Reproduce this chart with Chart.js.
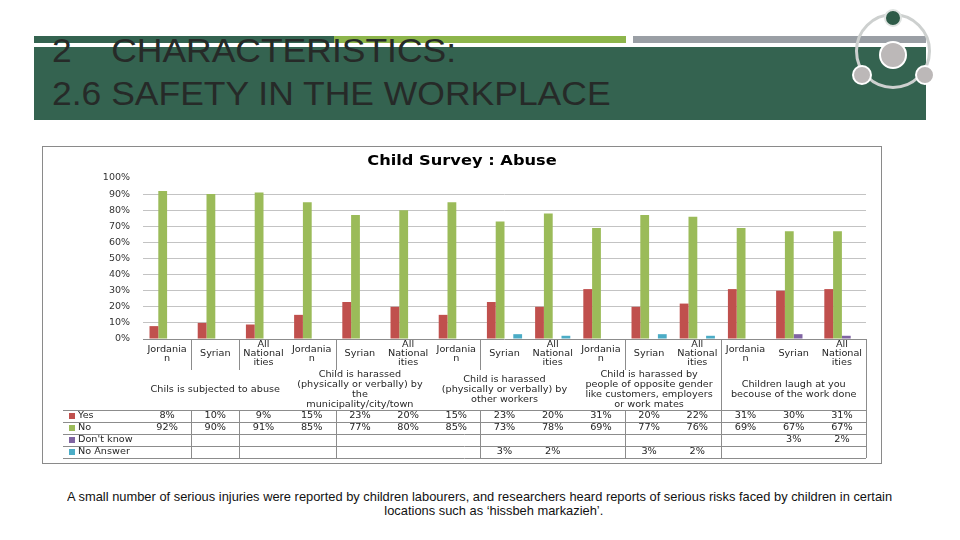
<!DOCTYPE html>
<html>
<head>
<meta charset="utf-8">
<script src="https://cdn.jsdelivr.net/npm/chart.js@4.4.1/dist/chart.umd.min.js"></script>
<style>
  body { margin: 0; width: 960px; height: 540px; background: #fff; position: relative; overflow: hidden; font-family: "Liberation Sans", Arial, sans-serif; }
  .blk { position: absolute; }
  .head { position: absolute; left: 52px; font-size: 33px; line-height: 33px; color: #262a28; white-space: pre; transform: scaleX(1.075); transform-origin: 0 0; }
  .dot { position: absolute; border-radius: 50%; box-sizing: border-box; }
  #box { position: absolute; left: 42px; top: 146px; width: 840px; height: 318px; border: 1px solid #8a8a8a; box-sizing: border-box; }
  #wrap { position: relative; width: 838px; height: 316px; }
  .cap { position: absolute; left: 0; width: 960px; text-align: center; font-size: 13.5px; line-height: 14px; color: #111; }
  .cap span { display: inline-block; white-space: pre; }
</style>
</head>
<body>
<div class="blk" style="left:34px;top:36px;width:300px;height:7px;background:#346350"></div>
<div class="blk" style="left:334px;top:36px;width:292px;height:7px;background:#8db54b"></div>
<div class="blk" style="left:633px;top:36px;width:293px;height:7px;background:#9a9fa5"></div>
<div class="blk" style="left:34px;top:47px;width:892px;height:73px;background:#346350"></div>
<div class="head" style="top:34px">2    CHARACTERISTICS:</div>
<div class="head" style="top:77px">2.6 SAFETY IN THE WORKPLACE</div>

<div class="dot" style="left:855px;top:13px;width:76px;height:76px;border:3px solid #cdd0cf"></div>
<div class="dot" style="left:884px;top:9px;width:18px;height:18px;background:#2e5b48;border:2px solid #dfe3e1"></div>
<div class="dot" style="left:879px;top:41px;width:28px;height:28px;background:#bcb8b8;border:2px solid #fff"></div>
<div class="dot" style="left:852px;top:65px;width:20px;height:20px;background:#bcb8b8;border:2px solid #fff"></div>
<div class="dot" style="left:915px;top:65px;width:20px;height:20px;background:#bcb8b8;border:2px solid #fff"></div>

<div id="box"><div id="wrap"><canvas id="chartAbuse"></canvas></div></div>

<div class="cap" style="top:490px"><span id="cap1">A small number of serious injuries were reported by children labourers, and researchers heard reports of serious risks faced by children in certain</span></div>
<div class="cap" style="top:504px;left:14px"><span id="cap2">locations such as ‘hissbeh markazieh’.</span></div>

<script>
// data (percent)
const chartTitle = 'Child Survey : Abuse';
const nationLabels = [['Jordania', 'n'], ['Syrian'], ['All', 'National', 'ities']];
const groupLabels = [
    ['Chils is subjected to abuse'],
    ['Child is harassed', '(physically or verbally) by', 'the', 'municipality/city/town'],
    ['Child is harassed', '(physically or verbally) by', 'other workers'],
    ['Child is harassed by', 'people of opposite gender', 'like customers, employers', 'or work mates'],
    ['Children laugh at you', 'becouse of the work done']
];
const yesValues = [8, 10, 9, 15, 23, 20, 15, 23, 20, 31, 20, 22, 31, 30, 31];
const noValues = [92, 90, 91, 85, 77, 80, 85, 73, 78, 69, 77, 76, 69, 67, 67];
const dontKnowValues = [null, null, null, null, null, null, null, null, null, null, null, null, null, 3, 2];
const noAnswerValues = [null, null, null, null, null, null, null, 3, 2, null, 3, 2, null, null, null];
const seriesNames = ['Yes', 'No', "Don't know", 'No Answer'];
const seriesColors = ['#c0504d', '#9bbb59', '#8064a2', '#4bacc6'];

const categories = [];
groupLabels.forEach(g => nationLabels.forEach(n => categories.push(n.join(' '))));

const allSeries = [yesValues, noValues, dontKnowValues, noAnswerValues];

// the slide is stretched sideways, so text is drawn a bit wider than tall
function say(ctx, str, x, y, align, sx) {
    ctx.save();
    ctx.translate(x, y);
    ctx.scale(sx || 1.1, 1);
    ctx.textAlign = align || 'center';
    ctx.fillText(str, 0, 0);
    ctx.restore();
}

const dataTable = {
    id: 'dataTable',
    afterDraw(chart) {
        const ctx = chart.ctx;
        const xs = chart.scales.x;
        const area = chart.chartArea;
        const step = xs.getPixelForValue(1) - xs.getPixelForValue(0);
        const edge = k => Math.round(xs.getPixelForValue(0) + (k - 0.5) * step) + 0.5;
        const top = area.bottom;
        const rowTop = 263, rowH = 12;
        const rowsBottom = rowTop + rowH * 4;
        ctx.save();

        // title
        ctx.fillStyle = '#000';
        ctx.font = 'bold 14px "DejaVu Sans"';
        ctx.textBaseline = 'middle';
        say(ctx, chartTitle, 419, 14, 'center', 1.16);

        ctx.strokeStyle = '#8c8c8c';
        ctx.lineWidth = 1;
        ctx.beginPath();
        for (let r = 0; r <= 4; r++) {
            const y = rowTop + r * rowH + 0.5;
            ctx.moveTo(20, y);
            ctx.lineTo(area.right, y);
        }
        [1, 2, 4, 7, 10].forEach(k => {
            ctx.moveTo(edge(k), top);
            ctx.lineTo(edge(k), 223);
            ctx.moveTo(edge(k), rowTop);
            ctx.lineTo(edge(k), rowsBottom);
        });
        [12, 15].forEach(k => {
            ctx.moveTo(edge(k), top);
            ctx.lineTo(edge(k), rowsBottom);
        });
        ctx.stroke();

        ctx.fillStyle = '#262626';
        ctx.font = '8.8px "DejaVu Sans"';
        // nationality row
        categories.forEach((c, i) => {
            const lines = nationLabels[i % 3];
            const cx = xs.getPixelForValue(i);
            lines.forEach((t, li) => say(ctx, t, cx, 207 + (li - (lines.length - 1) / 2) * 9));
        });
        // question row
        groupLabels.forEach((lines, gi) => {
            const cx = xs.getPixelForValue(gi * 3 + 1);
            lines.forEach((t, li) => say(ctx, t, cx, 243 + (li - (lines.length - 1) / 2) * 10));
        });
        // value rows
        allSeries.forEach((vals, si) => {
            const y = rowTop + si * rowH + 6;
            ctx.fillStyle = seriesColors[si];
            ctx.fillRect(26, y - 3, 6, 6);
            ctx.fillStyle = '#262626';
            say(ctx, seriesNames[si], 35, y, 'left');
            vals.forEach((v, i) => {
                if (v !== null) say(ctx, v + '%', xs.getPixelForValue(i), y);
            });
        });
        ctx.restore();
    }
};

const chartAbuse = new Chart(document.getElementById('chartAbuse').getContext('2d'), {
    type: 'bar',
    data: {
        labels: categories,
        datasets: allSeries.map((vals, si) => ({
            label: seriesNames[si],
            data: vals,
            backgroundColor: seriesColors[si],
            categoryPercentage: 0.73,
            barPercentage: 1
        }))
    },
    options: {
        responsive: true,
        maintainAspectRatio: false,
        animation: false,
        layout: { padding: { top: 31, right: 15, bottom: 124, left: 0 } },
        plugins: {
            legend: { display: false },
            tooltip: { enabled: false },
            title: { display: false }
        },
        scales: {
            x: { display: false },
            y: {
                min: 0,
                max: 100,
                afterFit(scale) { scale.width = 100; },
                border: { display: false },
                grid: {
                    drawTicks: false,
                    color: c => c.tick.value === 100 ? 'rgba(0,0,0,0)' : (c.tick.value === 0 ? '#8c8c8c' : '#c3c3c3')
                },
                ticks: {
                    stepSize: 10,
                    padding: 13,
                    color: '#333',
                    font: { family: 'DejaVu Sans', size: 9.5 },
                    callback: v => v + '%'
                }
            }
        }
    },
    plugins: [dataTable]
});

// squeeze the caption to the width it has on the slide
const cap1 = document.getElementById('cap1');
const squeeze = 825 / cap1.getBoundingClientRect().width;
cap1.style.transform = 'scaleX(' + squeeze + ')';
document.getElementById('cap2').style.transform = 'scaleX(' + squeeze + ')';
</script>
</body>
</html>
